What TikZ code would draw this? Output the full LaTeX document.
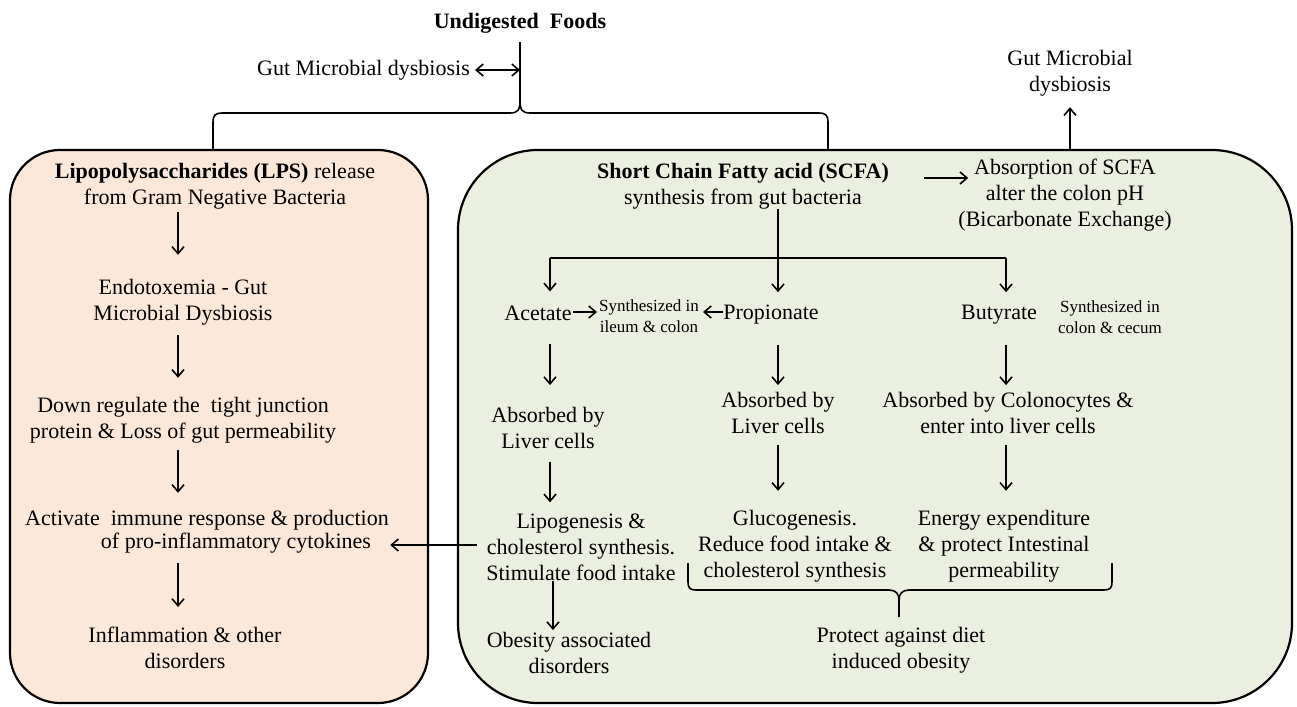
\documentclass[tikz,border=0pt]{standalone}
\usepackage{fontspec}
\setmainfont{Liberation Serif}
\usetikzlibrary{arrows.meta,calc}
\definecolor{lpsfill}{RGB}{252,232,217}
\definecolor{scfafill}{RGB}{235,239,223}
\begin{document}
\begin{tikzpicture}[x=1pt,y=-1pt,
  every node/.style={inner sep=0pt, align=center, font=\fontsize{22}{26}\selectfont},
  bold/.style={font=\fontsize{22}{26}\selectfont\bfseries},
  small/.style={font=\fontsize{17}{21}\selectfont},
  ln/.style={line width=1.6pt},
  arr/.style={line width=1.6pt, -{Straight Barb[length=7pt,width=12pt,line width=1.6pt]}},
  darr/.style={line width=1.6pt, {Straight Barb[length=7pt,width=12pt,line width=1.6pt]}-{Straight Barb[length=7pt,width=12pt,line width=1.6pt]}},
  box/.style={draw, line width=2.2pt},
]
\useasboundingbox (0,0) rectangle (1297,706);

% boxes
\node[box, fill=lpsfill, rounded corners=50pt, minimum width=418pt, minimum height=553pt] (lbox) at (219,426.5) {};
\node[box, fill=scfafill, rounded corners=80pt, minimum width=834pt, minimum height=553pt] (rbox) at (875,426.5) {};

% x references
\coordinate (xl) at (178,0);
\coordinate (xa) at (550,0);
\coordinate (xo) at (553,0);
\coordinate (xp) at (778,0);
\coordinate (xb) at (1006,0);

% top
\node[bold] (uf) at (520,23) {Undigested\ \ Foods};
\node[anchor=east] (gmd1) at (470,70) {Gut Microbial dysbiosis};
\coordinate (vj) at (520,70);
\coordinate (cusp) at (520,100);
\coordinate (bL) at (213,150);
\coordinate (bR) at (828,150);
\draw[ln] ($(uf.south)+(0,9)$) -- (cusp);
\draw[ln] (cusp) .. controls (520,110) and (522,113) .. (530,113) -- (818,113) .. controls (826,113) and (828,115) .. (828,123) -- (bR);
\draw[ln] (cusp) .. controls (520,110) and (518,113) .. (510,113) -- (223,113) .. controls (215,113) and (213,115) .. (213,123) -- (bL);
\draw[darr] ($(gmd1.east)+(5,0)$) -- (vj);

% left box
\node (lps) at (215,186) {\textbf{Lipopolysaccharides (LPS)} release\\from Gram Negative Bacteria};
\node (endo) at (183,302) {Endotoxemia - Gut\\Microbial Dysbiosis};
\node (down) at (183,420) {Down regulate the\ \ tight junction\\protein \& Loss of gut permeability};
\node (act) at (207,520) {Activate\ \ immune response \& production};
\node (act2) at (236,543) {of pro-inflammatory cytokines};
\node (infl) at (185,648) {Inflammation \& other\\disorders};

\draw[arr] ($(lps.south -| xl)+(0,3)$) -- ($(endo.north -| xl)+(0,-24)$);
\draw[arr] ($(endo.south -| xl)+(0,10)$) -- ($(down.north -| xl)+(0,-19)$);
\draw[arr] ($(down.south -| xl)+(0,7)$) -- ($(act.north -| xl)+(0,-17)$);
\draw[arr] ($(act2.south -| xl)+(0,10)$) -- ($(infl.north -| xl)+(0,-20)$);

% right box
\node (scfa) at (743,186) {\textbf{Short Chain Fatty acid (SCFA)}\\synthesis from gut bacteria};
\node (abs) at (1065,195) {Absorption of SCFA\\alter the colon pH\\(Bicarbonate Exchange)};
\node (gmd2) at (1070,73) {Gut Microbial\\dysbiosis};
\draw[arr] ($(scfa.east)+(35,-8)$) -- ($(abs.west)+(10,-17)$);
\draw[arr] (gmd2.south |- rbox.north) -- ($(gmd2.south)+(0,11)$);

\coordinate (jn) at (778,258);
\draw[ln] (scfa.south -| jn) -- (jn);
\draw[ln] (jn -| xa) -- (jn -| xb);

\node (acet) at (538,313) {Acetate};
\node[small] (syn1) at (649,316) {Synthesized in\\ileum \& colon};
\node (prop) at (771,315) {Propionate};
\node (buty) at (999,315) {Butyrate};
\node[small] (syn2) at (1110,317) {Synthesized in\\colon \& cecum};

\draw[arr] (jn -| xa) -- ($(acet.north -| xa)+(0,-14)$);
\draw[arr] (jn -| xp) -- ($(prop.north -| xp)+(0,-13)$);
\draw[arr] (jn -| xb) -- ($(buty.north -| xb)+(0,-13)$);
\draw[arr] ([xshift=1pt,yshift=1pt]acet.east) -- ([xshift=-2pt,yshift=4pt]syn1.west);
\draw[arr] ([yshift=3pt]prop.west) -- ([xshift=4pt,yshift=4pt]syn1.east);

\node (absA) at (548,428) {Absorbed by\\Liver cells};
\node (absP) at (778,413) {Absorbed by\\Liver cells};
\node (absB) at (1008,413) {Absorbed by Colonocytes \&\\enter into liver cells};

\draw[arr] ($(acet.south -| xa)+(0,23)$) -- ($(absA.north -| xa)+(0,-22)$);
\draw[arr] ($(prop.south -| xp)+(0,20)$) -- ($(absP.north -| xp)+(0,-7)$);
\draw[arr] ($(buty.south -| xb)+(0,20)$) -- ($(absB.north -| xb)+(0,-7)$);

\node (lipo) at (581,547) {Lipogenesis \&\\cholesterol synthesis.\\Stimulate food intake};
\node (gluc) at (795,546) {Glucogenesis.\\Reduce food intake \&\\cholesterol synthesis};
\node (ener) at (1004,546) {Energy expenditure\\\& protect Intestinal\\permeability};

\draw[arr] ($(absA.south -| xa)+(0,13)$) -- ($(lipo.north -| xa)+(0,-11)$);
\draw[arr] ($(absP.south -| xp)+(0,11)$) -- ($(gluc.north -| xp)+(0,-19)$);
\draw[arr] ($(absB.south -| xb)+(0,11)$) -- ($(ener.north -| xb)+(0,-19)$);

\node (obes) at (569,653) {Obesity associated\\disorders};
\draw[arr] (lipo.south -| xo) -- ($(obes.north -| xo)+(0,-2)$);

\draw[arr] ($(lipo.west)+(-9,-2)$) -- ($(act2.east |- lipo.west)+(19,-2)$);

% bottom brace
\node (prot) at (901,650) {Protect against diet\\induced obesity};
\coordinate (pL) at (688,563);
\coordinate (pR) at (1112,563);
\coordinate (pc) at (899,617);
\draw[ln] (pL) -- (688,582) .. controls (688,588) and (690,590) .. (696,590) -- (889,590) .. controls (896,590) and (899,594) .. (899,600) -- (pc);
\draw[ln] (pR) -- (1112,582) .. controls (1112,588) and (1110,590) .. (1104,590) -- (909,590) .. controls (902,590) and (899,594) .. (899,600);
\end{tikzpicture}
\end{document}
